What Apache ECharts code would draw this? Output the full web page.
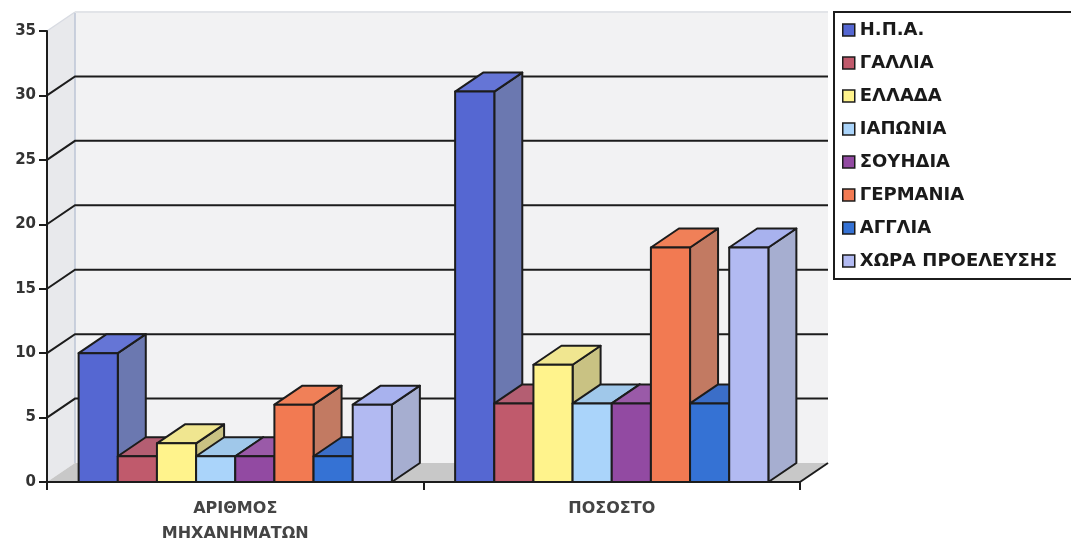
<!DOCTYPE html>
<html><head><meta charset="utf-8">
<script src="https://cdn.jsdelivr.net/npm/echarts@6/dist/echarts.min.js"></script>
<style>html,body{margin:0;padding:0;background:#fff}#c{width:1071px;height:546px}</style>
</head><body><div id="c"></div>
<script>
// ---- data ----
const categories = ['ΑΡΙΘΜΟΣ\nΜΗΧΑΝΗΜΑΤΩΝ', 'ΠΟΣΟΣΤΟ'];
const countries = ['Η.Π.Α.', 'ΓΑΛΛΙΑ', 'ΕΛΛΑΔΑ', 'ΙΑΠΩΝΙΑ', 'ΣΟΥΗΔΙΑ', 'ΓΕΡΜΑΝΙΑ', 'ΑΓΓΛΙΑ', 'ΧΩΡΑ ΠΡΟΕΛΕΥΣΗΣ'];
const machineCounts = [10, 2, 3, 2, 2, 6, 2, 6];
const percentages = [30.3, 6.1, 9.1, 6.1, 6.1, 18.2, 6.1, 18.2];
const yTicks = [0, 5, 10, 15, 20, 25, 30, 35];

// ---- style ----
const frontColors = ['#5567d2', '#c05a6c', '#fff38c', '#aad4fa', '#924aa2', '#f27a52', '#3572d4', '#b2baf2'];
const topColors   = ['#6575d6', '#b45e72', '#f0e690', '#a0c8ea', '#9a5aa8', '#f08058', '#3b6ec8', '#a8b2ee'];
const sideColors  = ['#6b78b0', '#8e4a5a', '#c9c283', '#8aaed0', '#74407e', '#c27a62', '#2e5a9e', '#a6aed0'];
const DX = 28, DY = -19;
const FONT = '"DejaVu Sans", "Liberation Sans", Arial, sans-serif';
const EDGE = '#1c1c1c';

const chart = echarts.init(document.getElementById('c'));

function renderWalls(params, api) {
  const cs = params.coordSys;
  const x0 = cs.x, x1 = cs.x + cs.width, yt = cs.y, yb = cs.y + cs.height;
  const ch = [];
  ch.push({type: 'polygon', shape: {points: [[x0 + DX, yt + DY], [x1 + DX, yt + DY], [x1 + DX, yb + DY], [x0 + DX, yb + DY]]}, style: {fill: '#f2f2f3'}});
  ch.push({type: 'polygon', shape: {points: [[x0, yt], [x0 + DX, yt + DY], [x0 + DX, yb + DY], [x0, yb]]}, style: {fill: '#e8e9ec'}});
  ch.push({type: 'polygon', shape: {points: [[x0, yb], [x1, yb], [x1 + DX, yb + DY], [x0 + DX, yb + DY]]}, style: {fill: '#c8c8c8'}});
  ch.push({type: 'line', shape: {x1: x0 + DX, y1: yt + DY, x2: x0 + DX, y2: yb + DY}, style: {stroke: '#bcc4d6', lineWidth: 1.5}});
  ch.push({type: 'line', shape: {x1: x0, y1: yt, x2: x0 + DX, y2: yt + DY}, style: {stroke: '#d8dbe2', lineWidth: 1.5}});
  ch.push({type: 'line', shape: {x1: x0 + DX, y1: yt + DY, x2: x1 + DX, y2: yt + DY}, style: {stroke: '#e2e4e8', lineWidth: 2}});
  yTicks.filter(v => v > yTicks[0] && v < yTicks[yTicks.length - 1]).forEach(v => {
    const y = api.coord([0, v])[1];
    ch.push({type: 'polyline', shape: {points: [[x0, y], [x0 + DX, y + DY], [x1 + DX, y + DY]]}, style: {stroke: EDGE, lineWidth: 2, fill: null}});
  });
  ch.push({type: 'line', shape: {x1: x1, y1: yb, x2: x1 + DX, y2: yb + DY}, style: {stroke: EDGE, lineWidth: 2}});
  return {type: 'group', children: ch, silent: true};
}

function makeBarRenderer(s) {
  return function (params, api) {
    const cat = api.value(0), val = api.value(1);
    const band = api.size([1, 0])[0];
    const p0 = api.coord([cat, 0]);
    const y0 = p0[1];
    const y1 = api.coord([cat, val])[1];
    const pad = band * 0.084;
    const w = (band - 2 * pad) / countries.length;
    const x = p0[0] - band / 2 + pad + s * w;
    const st = {stroke: EDGE, lineWidth: 2, lineJoin: 'round'};
    return {type: 'group', children: [
      {type: 'polygon', shape: {points: [[x + w, y1], [x + w + DX, y1 + DY], [x + w + DX, y0 + DY], [x + w, y0]]}, style: Object.assign({fill: sideColors[s]}, st)},
      {type: 'polygon', shape: {points: [[x, y1], [x + DX, y1 + DY], [x + w + DX, y1 + DY], [x + w, y1]]}, style: Object.assign({fill: topColors[s]}, st)},
      {type: 'rect', shape: {x: x, y: y1, width: w, height: y0 - y1}, style: Object.assign({fill: frontColors[s]}, st)}
    ]};
  };
}

const series = [{
  type: 'custom', name: '_walls', renderItem: renderWalls, data: [[0, 0]],
  encode: {x: 0, y: 1}, silent: true, z: 1, clip: false
}];
countries.forEach((name, s) => {
  series.push({
    type: 'custom', name: name, renderItem: makeBarRenderer(s),
    data: [[0, machineCounts[s]], [1, percentages[s]]],
    encode: {x: 0, y: 1}, itemStyle: {color: frontColors[s]}, z: 2, clip: false
  });
});

chart.setOption({
  animation: false,
  backgroundColor: '#ffffff',
  grid: {left: 47, right: 271, top: 31, bottom: 58, containLabel: false},
  xAxis: {
    type: 'category', data: categories, boundaryGap: true,
    axisLine: {show: true, lineStyle: {color: EDGE, width: 2}},
    axisTick: {show: true, length: 8, alignWithLabel: false, lineStyle: {color: EDGE, width: 2}},
    axisLabel: {fontFamily: FONT, fontWeight: 'bold', fontSize: 16, color: '#444', margin: 14, lineHeight: 25},
    splitLine: {show: false}, z: 5
  },
  yAxis: {
    type: 'value', min: 0, max: 35, interval: 5,
    axisLine: {show: true, lineStyle: {color: EDGE, width: 2}},
    axisTick: {show: true, length: 8, lineStyle: {color: EDGE, width: 2}},
    axisLabel: {fontFamily: FONT, fontWeight: 'bold', fontSize: 15, color: '#333', margin: 11},
    splitLine: {show: false}, z: 5
  },
  legend: {
    data: countries, orient: 'vertical', left: 834, top: 12,
    itemWidth: 12, itemHeight: 12, itemGap: 13, icon: 'rect',
    padding: [8, 40, 8, 8],
    borderColor: EDGE, borderWidth: 2, backgroundColor: '#ffffff',
    itemStyle: {borderColor: EDGE, borderWidth: 1.5},
    textStyle: {fontFamily: FONT, fontWeight: 'bold', fontSize: 18, color: '#1a1a1a', lineHeight: 20},
    selectedMode: false
  },
  series: series
});
</script></body></html>
